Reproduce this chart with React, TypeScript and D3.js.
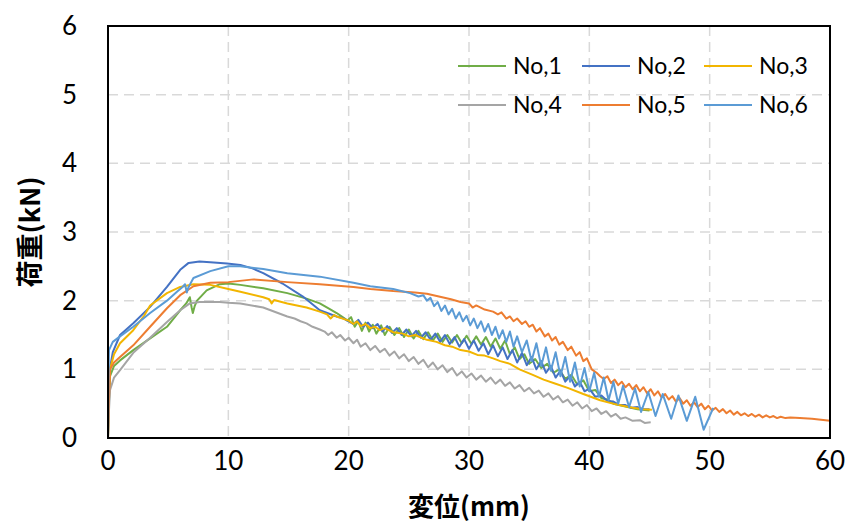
import React from "react";
import * as d3 from "d3";

// load (kN) vs displacement (mm)
const no1: [number, number][] = [
  [0, 0], [0.05, 0.4], [0.17, 0.9], [0.5, 1.05], [1, 1.13], [2.1, 1.28], [3.5, 1.45], [4.9, 1.62],
  [6, 1.86], [6.5, 1.96], [6.8, 2.05], [6.95, 1.9], [7.05, 1.82], [7.2, 1.92], [7.4, 2.0], [8.2, 2.15],
  [9.3, 2.24], [10, 2.25], [11, 2.23], [12.9, 2.18], [14.9, 2.11], [16.5, 2.03], [17.6, 1.96], [18.4, 1.88],
  [19, 1.82], [19.5, 1.76], [19.9, 1.71], [20.2, 1.76], [20.5, 1.62], [20.8, 1.7], [21.1, 1.56], [21.4, 1.68],
  [21.7, 1.55], [22, 1.65], [22.3, 1.52], [22.7, 1.64], [23, 1.5], [23.4, 1.62], [23.8, 1.5], [24.2, 1.6],
  [24.6, 1.47], [25, 1.58], [25.4, 1.45], [25.8, 1.56], [26.2, 1.44], [26.6, 1.54], [27, 1.42], [27.4, 1.52],
  [27.8, 1.4], [28.2, 1.5], [28.6, 1.39], [29, 1.5], [29.4, 1.38], [29.8, 1.49], [30.2, 1.37], [30.6, 1.48],
  [31, 1.36], [31.4, 1.47], [31.8, 1.33], [32.2, 1.45], [32.6, 1.3], [33, 1.42], [33.4, 1.22], [33.8, 1.32],
  [34.2, 1.15], [34.6, 1.22], [35, 1.08], [35.5, 1.15], [36, 1.02], [36.5, 1.08], [37, 0.95], [37.5, 1.0],
  [38, 0.86], [38.5, 0.92], [39, 0.78], [39.5, 0.84], [40, 0.68], [40.5, 0.7], [41, 0.58], [41.5, 0.56],
  [42, 0.5], [43, 0.46], [44, 0.42], [45, 0.4],
];

const no2: [number, number][] = [
  [0, 0], [0.05, 0.6], [0.15, 1.0], [0.4, 1.25], [1, 1.5], [2.1, 1.67], [3.5, 1.91], [4.9, 2.2],
  [6, 2.45], [6.7, 2.55], [7.6, 2.57], [8.5, 2.56], [9.9, 2.54], [11, 2.52], [12, 2.47], [12.9, 2.4],
  [14.5, 2.25], [16.2, 2.06], [17.6, 1.86], [19, 1.77], [19.6, 1.74], [20, 1.7], [20.4, 1.66], [20.8, 1.72],
  [21.2, 1.62], [21.6, 1.68], [22, 1.6], [22.4, 1.66], [22.8, 1.55], [23.2, 1.63], [23.6, 1.53], [24, 1.6],
  [24.4, 1.5], [24.8, 1.58], [25.2, 1.48], [25.6, 1.56], [26, 1.46], [26.4, 1.54], [26.8, 1.43], [27.2, 1.52],
  [27.6, 1.4], [28, 1.5], [28.4, 1.37], [28.8, 1.47], [29.2, 1.33], [29.6, 1.44], [30, 1.3], [30.4, 1.42],
  [30.8, 1.27], [31.2, 1.38], [31.6, 1.22], [32, 1.35], [32.4, 1.19], [32.8, 1.32], [33.2, 1.15], [33.6, 1.28],
  [34, 1.1], [34.4, 1.24], [34.8, 1.06], [35.2, 1.18], [35.6, 1.0], [36, 1.12], [36.4, 0.95], [36.8, 1.05],
  [37.2, 0.88], [37.6, 0.98], [38, 0.82], [38.4, 0.9], [38.8, 0.75], [39.2, 0.82], [39.6, 0.68], [40, 0.72],
  [40.5, 0.6], [41, 0.62], [41.5, 0.54], [42, 0.53], [42.5, 0.48], [43, 0.48], [43.5, 0.44], [44, 0.45],
  [44.5, 0.42], [45, 0.42],
];

const no3: [number, number][] = [
  [0, 0], [0.05, 0.5], [0.17, 1.0], [0.5, 1.22], [1, 1.38], [2.1, 1.57], [3, 1.78], [3.5, 1.93],
  [4.9, 2.11], [6, 2.2], [7.1, 2.24], [8.5, 2.23], [10, 2.17], [11, 2.13], [12.9, 2.05], [13.4, 2.02],
  [13.6, 1.96], [13.8, 2.01], [14.9, 1.96], [16.5, 1.9], [17.6, 1.84], [18.2, 1.8], [18.5, 1.74], [18.8, 1.79],
  [19, 1.77], [20, 1.71], [20.4, 1.66], [20.7, 1.7], [21, 1.63], [21.4, 1.66], [21.8, 1.6], [22.2, 1.62],
  [22.6, 1.57], [23, 1.6], [23.7, 1.54], [24.5, 1.52], [25, 1.48], [25.5, 1.5], [26.5, 1.43], [27.3, 1.4],
  [28, 1.35], [28.6, 1.33], [29.3, 1.28], [30, 1.26], [30.7, 1.21], [31.3, 1.2], [32, 1.16], [32.6, 1.12],
  [33.4, 1.08], [34.2, 1.0], [35.3, 0.92], [36.2, 0.85], [37.2, 0.79], [38.2, 0.73], [39.5, 0.64], [40.9, 0.55],
  [42.2, 0.49], [43.6, 0.44], [44.5, 0.42], [45.2, 0.41],
];

const no4: [number, number][] = [
  [0, 0], [0.05, 0.3], [0.17, 0.7], [0.5, 0.88], [1, 0.99], [2.1, 1.24], [3.5, 1.46], [4.9, 1.69],
  [6, 1.86], [6.8, 1.96], [7.6, 1.98], [9.3, 1.98], [10, 1.97], [11, 1.96], [12.9, 1.9], [14.9, 1.77],
  [15.5, 1.74], [16, 1.7], [16.5, 1.67], [17, 1.62], [17.6, 1.58], [18, 1.55], [18.3, 1.5], [18.6, 1.54],
  [19, 1.46], [19.3, 1.5], [19.7, 1.42], [20, 1.46], [20.4, 1.38], [20.7, 1.43], [21, 1.33], [21.4, 1.38],
  [21.8, 1.28], [22.2, 1.34], [22.6, 1.25], [23, 1.3], [23.4, 1.2], [23.8, 1.26], [24.2, 1.16], [24.6, 1.22],
  [25, 1.12], [25.4, 1.18], [25.8, 1.08], [26.2, 1.14], [26.6, 1.03], [27, 1.1], [27.4, 1.0], [27.8, 1.06],
  [28.2, 0.96], [28.6, 1.02], [29, 0.91], [29.4, 0.97], [29.8, 0.88], [30.2, 0.94], [30.6, 0.85], [31, 0.91],
  [31.4, 0.82], [31.8, 0.88], [32.2, 0.79], [32.6, 0.85], [33, 0.76], [33.4, 0.81], [33.8, 0.72], [34.2, 0.77],
  [34.6, 0.68], [35, 0.73], [35.4, 0.65], [35.8, 0.69], [36.2, 0.6], [36.6, 0.65], [37, 0.56], [37.4, 0.61],
  [37.8, 0.52], [38.2, 0.56], [38.6, 0.47], [39, 0.52], [39.4, 0.43], [39.8, 0.48], [40.2, 0.39], [40.6, 0.43],
  [41, 0.35], [41.4, 0.39], [41.8, 0.31], [42.2, 0.35], [42.6, 0.28], [43, 0.3], [43.6, 0.25], [44.2, 0.26],
  [44.6, 0.22], [45.1, 0.23],
];

const no5: [number, number][] = [
  [0, 0], [0.05, 0.4], [0.17, 1.0], [0.5, 1.1], [1, 1.18], [2.1, 1.35], [3.5, 1.62], [4.9, 1.89],
  [6, 2.08], [7.1, 2.21], [8.5, 2.26], [10, 2.27], [12.1, 2.31], [14.9, 2.27], [17.6, 2.24], [20.4, 2.2],
  [21.8, 2.17], [23.7, 2.14], [25.5, 2.12], [26.5, 2.1], [27.5, 2.06], [28.5, 2.02], [29.3, 1.98], [30, 1.96],
  [30.3, 1.9], [30.6, 1.93], [31.3, 1.87], [32, 1.84], [32.4, 1.8], [32.7, 1.83], [33.1, 1.74], [33.4, 1.77],
  [33.7, 1.7], [34, 1.74], [34.4, 1.66], [34.7, 1.7], [35, 1.62], [35.3, 1.65], [35.6, 1.55], [35.9, 1.6],
  [36.3, 1.48], [36.6, 1.52], [36.9, 1.42], [37.2, 1.47], [37.5, 1.36], [37.8, 1.4], [38.2, 1.28], [38.5, 1.33],
  [38.9, 1.2], [39.2, 1.25], [39.5, 1.12], [39.8, 1.16], [40.2, 1.0], [40.6, 0.95], [40.9, 0.9], [41.2, 0.86],
  [41.5, 0.9], [41.8, 0.8], [42.1, 0.85], [42.4, 0.77], [42.7, 0.82], [43, 0.74], [43.3, 0.79], [43.6, 0.71],
  [43.9, 0.77], [44.2, 0.68], [44.5, 0.74], [44.8, 0.65], [45.1, 0.71], [45.4, 0.62], [45.7, 0.68], [46, 0.59],
  [46.3, 0.64], [46.6, 0.56], [46.9, 0.61], [47.2, 0.53], [47.5, 0.58], [47.8, 0.5], [48.1, 0.55], [48.4, 0.47],
  [48.7, 0.52], [49, 0.45], [49.3, 0.5], [49.6, 0.42], [49.9, 0.47], [50.2, 0.4], [50.5, 0.44], [50.8, 0.38],
  [51.1, 0.42], [51.4, 0.36], [51.7, 0.4], [52, 0.34], [52.3, 0.38], [52.6, 0.33], [52.9, 0.36], [53.2, 0.32],
  [53.5, 0.35], [53.8, 0.31], [54.1, 0.34], [54.4, 0.3], [54.7, 0.33], [55, 0.3], [55.3, 0.32], [55.6, 0.29],
  [55.9, 0.31], [56.3, 0.29], [56.7, 0.3], [57.5, 0.29], [58.5, 0.28], [60, 0.25],
];

const no6: [number, number][] = [
  [0, 0], [0.03, 0.8], [0.08, 1.28], [0.4, 1.4], [1, 1.48], [2.1, 1.62], [3.5, 1.82], [4.9, 2.0],
  [5.8, 2.14], [6.2, 2.2], [6.4, 2.24], [6.55, 2.12], [6.7, 2.2], [7.1, 2.33], [8.5, 2.43], [10, 2.5],
  [11, 2.5], [12.9, 2.46], [14.9, 2.4], [17.6, 2.35], [20.4, 2.26], [21.8, 2.21], [23.7, 2.17], [25.1, 2.11],
  [25.8, 2.06], [26.2, 2.08], [26.5, 2.0], [26.8, 2.04], [27.1, 1.92], [27.4, 1.98], [27.7, 1.85], [28, 1.93],
  [28.3, 1.8], [28.6, 1.88], [28.9, 1.74], [29.2, 1.83], [29.5, 1.7], [29.8, 1.78], [30.1, 1.64], [30.4, 1.74],
  [30.7, 1.6], [31, 1.7], [31.3, 1.55], [31.6, 1.66], [31.9, 1.5], [32.2, 1.62], [32.5, 1.45], [32.8, 1.57],
  [33.1, 1.4], [33.4, 1.55], [33.7, 1.33], [34, 1.48], [34.4, 1.25], [34.8, 1.42], [35.2, 1.12], [35.6, 1.38],
  [36, 1.05], [36.4, 1.32], [36.8, 0.98], [37.2, 1.25], [37.6, 0.9], [38, 1.18], [38.4, 0.82], [38.8, 1.1],
  [39.2, 0.75], [39.6, 1.02], [40, 0.68], [40.4, 0.95], [40.8, 0.6], [41.2, 0.88], [41.6, 0.55], [42, 0.82],
  [42.4, 0.5], [42.8, 0.76], [43.3, 0.45], [43.8, 0.72], [44.3, 0.38], [44.9, 0.67], [45.5, 0.32], [46.1, 0.64],
  [46.8, 0.28], [47.4, 0.62], [48.1, 0.25], [48.8, 0.6], [49.5, 0.12], [50.3, 0.44],
];

const seriesNames = ["No,1", "No,2", "No,3", "No,4", "No,5", "No,6"];
const seriesData = [no1, no2, no3, no4, no5, no6];
const colors = ["#70AD47", "#4472C4", "#F2B500", "#A5A5A5", "#ED7D31", "#5B9BD5"];
const xTicks = [0, 10, 20, 30, 40, 50, 60];
const yTicks = [0, 1, 2, 3, 4, 5, 6];

const width = 852;
const height = 527;
const margin = { left: 108, right: 22, top: 26, bottom: 89 };
const font = "Lato, 'Noto Sans', sans-serif";

const App = () => {
  const x = d3.scaleLinear().domain([0, 60]).range([margin.left, width - margin.right]);
  const y = d3.scaleLinear().domain([0, 6]).range([height - margin.bottom, margin.top]);
  const line = d3
    .line<[number, number]>()
    .x((d) => x(d[0]))
    .y((d) => y(d[1]));

  const legendX = [458, 582, 704];
  const legendY = [66, 105];

  return (
    <svg
      width={width}
      height={height}
      style={{ position: "absolute", left: 0, top: 0, background: "#fff" }}
    >
      {/* grid */}
      {xTicks.slice(1, -1).map((t) => (
        <line key={"gx" + t} x1={x(t)} x2={x(t)} y1={y(6)} y2={y(0)}
          stroke="#D9D9D9" strokeWidth={1.5} strokeDasharray="10,6" />
      ))}
      {yTicks.slice(1, -1).map((t) => (
        <line key={"gy" + t} x1={x(0)} x2={x(60)} y1={y(t)} y2={y(t)}
          stroke="#D9D9D9" strokeWidth={1.5} strokeDasharray="10,6" />
      ))}

      {/* series */}
      {seriesData.map((d, i) => (
        <path key={seriesNames[i]} d={line(d) || ""} fill="none"
          stroke={colors[i]} strokeWidth={2} strokeLinejoin="round" />
      ))}

      {/* frame */}
      <rect x={x(0)} y={y(6)} width={x(60) - x(0)} height={y(0) - y(6)}
        fill="none" stroke="#000" strokeWidth={2} />

      {/* ticks */}
      {xTicks.map((t) => (
        <text key={"tx" + t} x={x(t)} y={470} textAnchor="middle"
          fontFamily={font} fontSize={26} fill="#000">{t}</text>
      ))}
      {yTicks.map((t) => (
        <text key={"ty" + t} x={77} y={y(t) + 9} textAnchor="end"
          fontFamily={font} fontSize={26} fill="#000">{t}</text>
      ))}

      {/* axis titles */}
      <text x={469} y={516} textAnchor="middle" fontFamily="'Noto Sans CJK JP', sans-serif"
        fontWeight="bold" fontSize={26} fill="#000">変位(mm)</text>
      <text transform={`translate(40,${232}) rotate(-90)`} textAnchor="middle"
        fontFamily="'Noto Sans CJK JP', sans-serif" fontWeight="bold" fontSize={27} fill="#000">荷重(kN)</text>

      {/* legend */}
      {seriesNames.map((name, i) => {
        const lx = legendX[i % 3];
        const ly = legendY[Math.floor(i / 3)];
        return (
          <g key={"lg" + name}>
            <line x1={lx} x2={lx + 48} y1={ly} y2={ly} stroke={colors[i]} strokeWidth={2} />
            <text x={lx + 55} y={ly + 8} fontFamily={font} fontSize={23} fill="#000">{name}</text>
          </g>
        );
      })}
    </svg>
  );
};

export default App;
